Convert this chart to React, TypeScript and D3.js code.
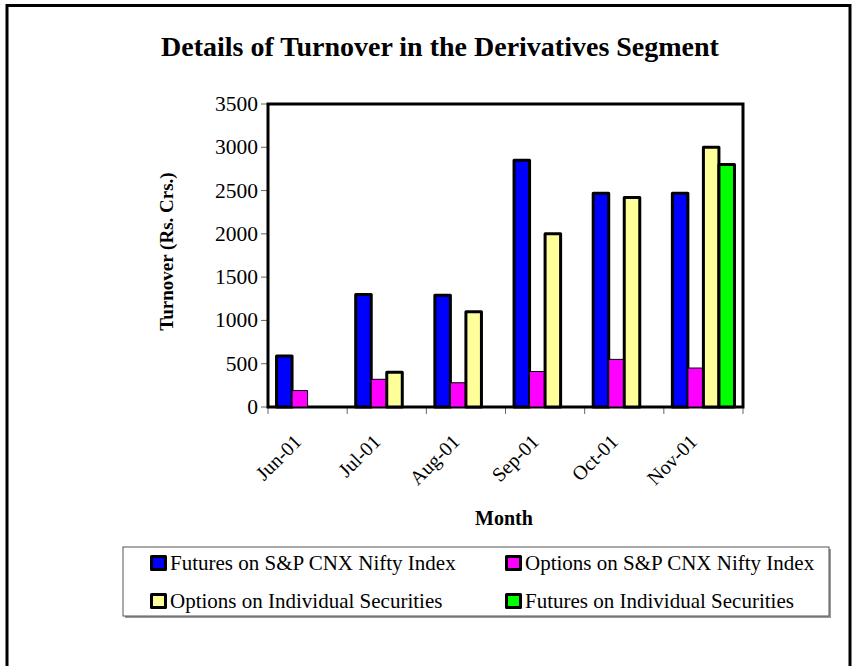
import React from 'react'
import * as d3 from 'd3'

// Turnover data (Rs. Crs.)
const months = ['Jun-01', 'Jul-01', 'Aug-01', 'Sep-01', 'Oct-01', 'Nov-01']
const seriesNames = [
  'Futures on S&P CNX Nifty Index',
  'Options on S&P CNX Nifty Index',
  'Options on Individual Securities',
  'Futures on Individual Securities',
]
const indexFutures = [590, 1300, 1290, 2850, 2470, 2470]
const indexOptions = [190, 320, 280, 410, 550, 450]
const stockOptions = [0, 400, 1100, 2000, 2420, 3000]
const stockFutures = [0, 0, 0, 0, 0, 2800]
const seriesColors = ['#0000ff', '#ff00ff', '#ffff99', '#00ff00']
const seriesStroke = [3, 1, 3, 3]
const yTicks = [0, 500, 1000, 1500, 2000, 2500, 3000, 3500]

const W = 855
const H = 666
const font = '"Liberation Serif", "Times New Roman", serif'

export default function App() {
  const values = [indexFutures, indexOptions, stockOptions, stockFutures]
  const plot = { left: 268, top: 104, right: 743, bottom: 407 }

  const x0 = d3.scaleBand().domain(months).range([plot.left, plot.right])
  const x1 = d3
    .scaleBand()
    .domain(seriesNames)
    .range([0, x0.bandwidth()])
    .paddingInner(0)
    .paddingOuter(0.55)
  const y = d3.scaleLinear().domain([0, 3500]).range([plot.bottom, plot.top])

  const legendItems = seriesNames.map((name, i) => ({
    name,
    color: seriesColors[i],
    x: i % 2 === 0 ? 151.5 : 506.5,
    y: i < 2 ? 563 : 601,
  }))

  return (
    <svg
      width={W}
      height={H}
      style={{ position: 'absolute', left: 0, top: 0, background: '#fff' }}
      fontFamily={font}
    >
      {/* outer frame */}
      <rect x={7} y={5.5} width={843} height={700} fill="#fff" stroke="#000" strokeWidth={3} />

      <text x={440} y={56} textAnchor="middle" fontSize={28} fontWeight="bold">
        Details of Turnover in the Derivatives Segment
      </text>

      {/* y ticks */}
      {yTicks.map((t) => (
        <g key={t}>
          <line x1={plot.left - 7} x2={plot.left} y1={y(t)} y2={y(t)} stroke="#666" />
          <text x={plot.left - 10} y={y(t) + 7} textAnchor="end" fontSize={21.5}>
            {t}
          </text>
        </g>
      ))}

      {/* x ticks between categories */}
      {[...months.map((m) => x0(m) as number), plot.right].map((xv, i) => (
        <line key={i} x1={xv} x2={xv} y1={plot.bottom} y2={plot.bottom + 7} stroke="#666" />
      ))}

      {/* plot frame */}
      <rect
        x={plot.left}
        y={plot.top}
        width={plot.right - plot.left}
        height={plot.bottom - plot.top}
        fill="none"
        stroke="#000"
        strokeWidth={3}
      />

      {/* bars */}
      {months.map((m, mi) => (
        <g key={m} transform={`translate(${x0(m)},0)`}>
          {seriesNames.map((s, si) => {
            const v = values[si][mi]
            return (
              <rect
                key={s}
                x={x1(s)}
                y={y(v)}
                width={x1.bandwidth()}
                height={plot.bottom - y(v)}
                fill={seriesColors[si]}
                stroke="#000"
                strokeWidth={v === 0 ? 3 : seriesStroke[si]}
                strokeLinejoin="round"
              />
            )
          })}
        </g>
      ))}

      {/* x labels */}
      {months.map((m) => {
        const cx = (x0(m) as number) + x0.bandwidth() / 2 - 5
        const cy = plot.bottom + 36
        return (
          <text
            key={m}
            x={cx}
            y={cy}
            fontSize={20}
            textAnchor="end"
            transform={`rotate(-45,${cx},${cy})`}
          >
            {m}
          </text>
        )
      })}

      <text x={504} y={525} textAnchor="middle" fontSize={20} fontWeight="bold">
        Month
      </text>

      <text
        transform={`translate(173,${(plot.top + plot.bottom) / 2 - 4}) rotate(-90)`}
        textAnchor="middle"
        fontSize={19}
        fontWeight="bold"
      >
        Turnover (Rs. Crs.)
      </text>

      {/* legend */}
      <rect x={125} y={549} width={706} height={69} fill="#999" />
      <rect x={123} y={547} width={706} height={69} fill="#fff" stroke="#555" strokeWidth={1} />
      {legendItems.map((it) => (
        <g key={it.name}>
          <rect
            x={it.x}
            y={it.y - 6.5}
            width={14}
            height={13}
            fill={it.color}
            stroke="#000"
            strokeWidth={3}
            strokeLinejoin="round"
          />
          <text x={it.x + 18.5} y={it.y + 7} fontSize={21}>
            {it.name}
          </text>
        </g>
      ))}
    </svg>
  )
}
